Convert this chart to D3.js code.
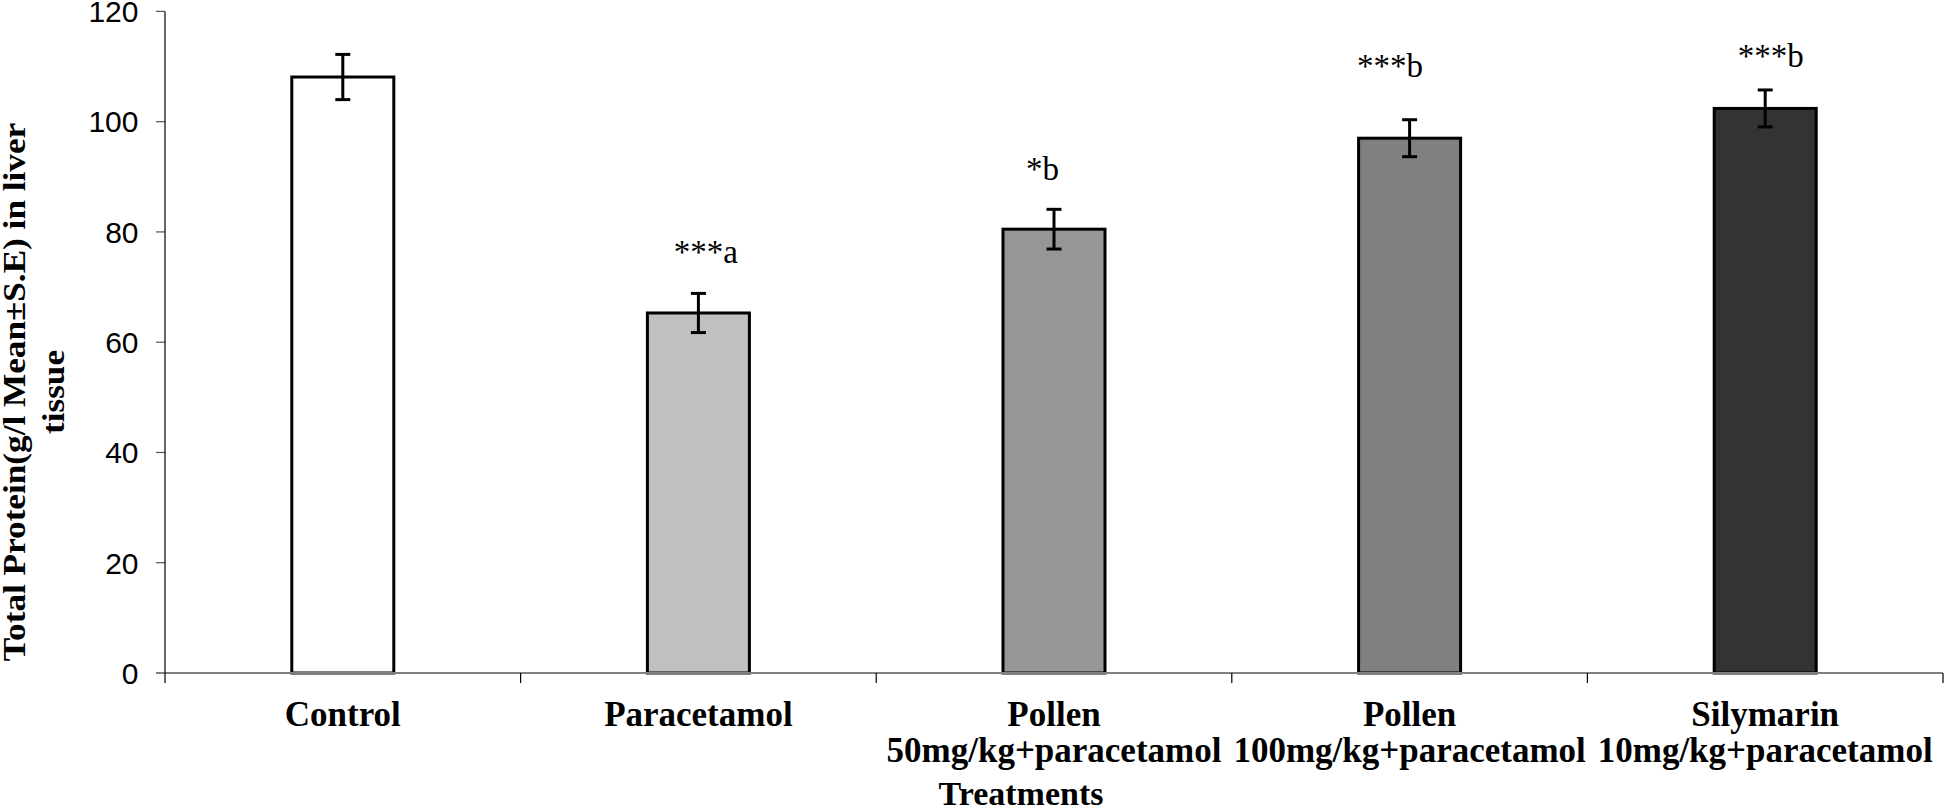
<!DOCTYPE html>
<html>
<head>
<meta charset="utf-8">
<script src="https://cdn.jsdelivr.net/npm/d3@7"></script>
<style>
  html, body { margin: 0; padding: 0; background: #ffffff; }
  svg { display: block; }
</style>
</head>
<body>
<svg id="chart" width="1946" height="811"></svg>
<script>
// ---- data ----
const categories = [
  "Control",
  "Paracetamol",
  "Pollen\n50mg/kg+paracetamol",
  "Pollen\n100mg/kg+paracetamol",
  "Silymarin\n10mg/kg+paracetamol"
];
const means = [108.1, 65.3, 80.5, 97.0, 102.4];
const errors = [4.1, 3.55, 3.6, 3.35, 3.35];
const fills = ["#ffffff", "#c0c0c0", "#969696", "#808080", "#333333"];
const annotations = ["", "***a", "*b", "***b", "***b"];
const annotationAt = [null, 74.3, 89.4, 108.1, 109.9];   // baseline, in data units
const yTicks = [0, 20, 40, 60, 80, 100, 120];
const yTitleLines = ["Total Protein(g/l Mean\u00B1S.E) in liver", "tissue"];
const xTitle = "Treatments";

// ---- layout ----
const annotationDx = [0, 7.5, -11.5, -19.5, 5.5];
const plotLeft = 165, plotRight = 1943, plotTop = 11.4, plotBottom = 673;
const barWidth = 102;

const svg = d3.select("#chart");

const x = d3.scaleBand().domain(categories).range([plotLeft, plotRight]).padding(0);
const y = d3.scaleLinear().domain([0, 120]).range([plotBottom, plotTop]);

// y ticks + labels
const yAxis = svg.append("g");
yAxis.selectAll("line").data(yTicks).join("line")
  .attr("x1", plotLeft - 9).attr("x2", plotLeft)
  .attr("y1", d => y(d)).attr("y2", d => y(d))
  .attr("stroke", "#555").attr("stroke-width", 1.2);
yAxis.selectAll("text").data(yTicks).join("text")
  .attr("x", 138.5).attr("y", d => y(d))
  .attr("dy", "0.36em")
  .attr("text-anchor", "end")
  .attr("font-family", "'Liberation Sans', Arial, sans-serif")
  .attr("font-size", 30)
  .attr("fill", "#000")
  .text(d => d);

// bars
const bars = svg.append("g");
bars.selectAll("rect").data(categories).join("rect")
  .attr("x", d => x(d) + x.bandwidth() / 2 - barWidth / 2)
  .attr("y", (d, i) => y(means[i]))
  .attr("width", barWidth)
  .attr("height", (d, i) => y(0) - y(means[i]))
  .attr("fill", (d, i) => fills[i])
  .attr("stroke", "#000")
  .attr("stroke-width", 3);

// x axis line (gray) and y axis (black)
svg.append("line")
  .attr("x1", plotLeft - 9).attr("x2", plotRight)
  .attr("y1", y(0)).attr("y2", y(0))
  .attr("stroke", "#808080").attr("stroke-width", 2);
svg.append("line")
  .attr("x1", plotLeft).attr("x2", plotLeft)
  .attr("y1", plotTop).attr("y2", y(0) + 10)
  .attr("stroke", "#000").attr("stroke-width", 1.2);

// category boundary ticks
const bounds = categories.map(c => x(c) + x.bandwidth());
svg.append("g").selectAll("line").data(bounds).join("line")
  .attr("x1", d => d).attr("x2", d => d)
  .attr("y1", y(0)).attr("y2", y(0) + 10)
  .attr("stroke", "#000").attr("stroke-width", 1.2);

// error bars
const eb = svg.append("g").attr("stroke", "#000").attr("stroke-width", 3);
categories.forEach((c, i) => {
  const cx = x(c) + x.bandwidth() / 2;
  eb.append("line").attr("x1", cx).attr("x2", cx)
    .attr("y1", y(means[i] + errors[i])).attr("y2", y(means[i] - errors[i]));
  eb.append("line").attr("x1", cx - 7.5).attr("x2", cx + 7.5)
    .attr("y1", y(means[i] + errors[i])).attr("y2", y(means[i] + errors[i]));
  eb.append("line").attr("x1", cx - 7.5).attr("x2", cx + 7.5)
    .attr("y1", y(means[i] - errors[i])).attr("y2", y(means[i] - errors[i]));
});

// annotations
const annG = svg.append("g")
  .attr("font-family", "'Liberation Serif', 'Times New Roman', serif")
  .attr("font-size", 33)
  .attr("fill", "#000")
  .attr("text-anchor", "middle");
categories.forEach((c, i) => {
  if (!annotations[i]) return;
  annG.append("text")
    .attr("x", x(c) + x.bandwidth() / 2 + annotationDx[i])
    .attr("y", y(annotationAt[i]))
    .text(annotations[i]);
});

// category labels
const catG = svg.append("g")
  .attr("font-family", "'Liberation Serif', 'Times New Roman', serif")
  .attr("font-weight", "bold")
  .attr("font-size", 35)
  .attr("fill", "#000")
  .attr("text-anchor", "middle");
categories.forEach(c => {
  const lines = c.split("\n");
  const cx = x(c) + x.bandwidth() / 2;
  const t = catG.append("text").attr("x", cx).attr("y", 726);
  lines.forEach((ln, k) => {
    t.append("tspan").attr("x", cx).attr("y", 726 + k * 36).text(ln);
  });
});

// x title
svg.append("text")
  .attr("x", 1021).attr("y", 805)
  .attr("text-anchor", "middle")
  .attr("font-family", "'Liberation Serif', 'Times New Roman', serif")
  .attr("font-weight", "bold")
  .attr("font-size", 34)
  .attr("fill", "#000")
  .text(xTitle);

// y title
const yT = svg.append("text")
  .attr("transform", "translate(25,392) rotate(-90) scale(1.1,1)")
  .attr("text-anchor", "middle")
  .attr("font-family", "'Liberation Serif', 'Times New Roman', serif")
  .attr("font-weight", "bold")
  .attr("font-size", 32)
  .attr("fill", "#000");
yTitleLines.forEach((ln, k) => {
  yT.append("tspan").attr("x", 0).attr("y", k * 39).text(ln);
});
</script>
</body>
</html>
